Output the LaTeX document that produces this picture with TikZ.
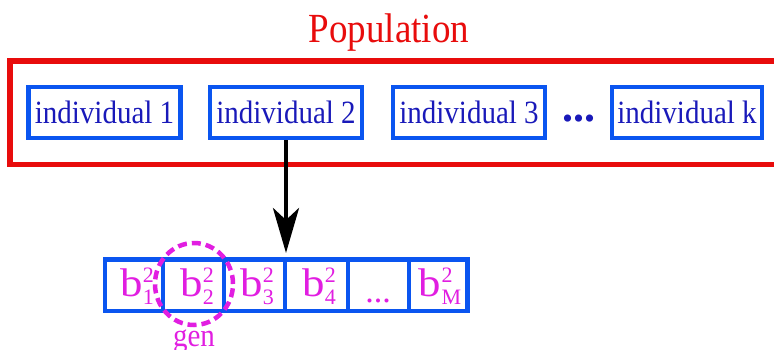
\documentclass[tikz,border=0pt]{standalone}
\usepackage{fontspec}
\setmainfont{Liberation Serif}
\usepackage{graphicx}
\usetikzlibrary{arrows.meta,shapes.geometric}
\definecolor{popred}{RGB}{232,12,12}
\definecolor{boxblue}{RGB}{10,85,240}
\definecolor{txtblue}{RGB}{25,25,185}
\definecolor{genmag}{RGB}{225,30,225}
\newcommand{\vst}[1]{\scalebox{1}[1.12]{#1}}
\newcommand{\bsym}[1]{\scalebox{1.12}[1]{b}\kern0.5pt\rlap{\raisebox{14pt}{\fontsize{22}{22}\selectfont 2}}\raisebox{-8pt}{\fontsize{22}{22}\selectfont #1}}
\begin{document}
\begin{tikzpicture}[x=1pt,y=-1pt,
  popbox/.style={draw=popred,line width=5.5pt,inner sep=0pt},
  indbox/.style={draw=boxblue,line width=4.5pt,minimum width=152pt,minimum height=51pt,inner sep=0pt,text=txtblue,font=\fontsize{29}{32}\selectfont},
  cellbox/.style={draw=boxblue,line width=4.8pt,minimum height=51.3pt,inner sep=0pt},
  blabel/.style={anchor=base,text=genmag,font=\fontsize{40}{42}\selectfont},
  gencircle/.style={draw=genmag,ellipse,line width=4.5pt,dash pattern=on 9pt off 5pt,inner sep=0pt},
  bigarrow/.style={line width=4.5pt,-{Stealth[length=45pt,width=26pt,inset=12pt]}}
]
\useasboundingbox (0,0) rectangle (774,349);
\clip (0,0) rectangle (774,349);
\node[anchor=base,text=popred,font=\fontsize{37}{40}\selectfont] (title) at (389,42) {\vst{Population}};
\node[popbox,minimum width=790pt,minimum height=103.5pt] (pop) at (405,112.75) {};
\node[indbox] (ind1) at (104.5,112.5) {\vst{individual 1}};
\node[indbox] (ind2) at (286,112.5) {\vst{individual 2}};
\node[indbox] (ind3) at (469,112.5) {\vst{individual 3}};
\node[indbox,minimum width=150pt] (indk) at (687,112.5) {\vst{individual k}};
\node[anchor=base,text=txtblue,font=\bfseries\fontsize{44}{44}\selectfont] (dots) at (579,121) {...};
% chromosome cells
\node[cellbox,minimum width=58pt] (c1) at (134,285.35) {};
\node[cellbox,minimum width=61pt] (c2) at (193.5,285.35) {};
\node[cellbox,minimum width=61pt] (c3) at (254.5,285.35) {};
\node[cellbox,minimum width=63pt] (c4) at (316.5,285.35) {};
\node[cellbox,minimum width=61pt] (c5) at (378.5,285.35) {};
\node[cellbox,minimum width=58.5pt] (c6) at (438.25,285.35) {};
\node[blabel] (l1) at (137,296.5) {\bsym{1}};
\node[blabel] (l2) at (197,296.5) {\bsym{2}};
\node[blabel] (l3) at (257,296.5) {\bsym{3}};
\node[blabel] (l4) at (319,296.5) {\bsym{4}};
\node[anchor=base,text=genmag,font=\fontsize{34}{36}\selectfont] (l5) at (378,302) {...};
\node[blabel] (l6) at (440,296.5) {\bsym{M}};
\coordinate (tip) at (286,253);
\draw[bigarrow] (ind2.south) -- (tip);
\node[gencircle,minimum width=78pt,minimum height=82pt] (gc) at (194,284) {};
\node[anchor=base,text=genmag,font=\fontsize{29}{32}\selectfont] (gen) at (194,346) {\vst{gen}};
\end{tikzpicture}
\end{document}
